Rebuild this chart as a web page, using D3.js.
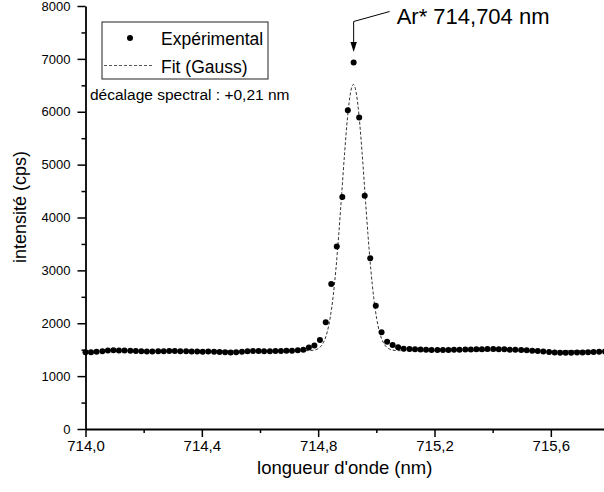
<!DOCTYPE html>
<html>
<head>
<meta charset="utf-8">
<script src="https://cdn.jsdelivr.net/npm/d3@7"></script>
<style>
    html, body { margin: 0; padding: 0; background: #fff; }
    #chart { width: 604px; height: 492px; }
    svg text { font-family: Arial, "Liberation Sans", sans-serif; fill: #000; }
</style>
</head>
<body>
<div id="chart"></div>
<script>
// wavelength of each measured point (nm)
const wavelengths = [
    714.000, 714.019, 714.038, 714.058, 714.077, 714.096, 714.115, 714.134, 714.154, 714.173,
    714.192, 714.211, 714.230, 714.250, 714.269, 714.288, 714.307, 714.326, 714.346, 714.365,
    714.384, 714.403, 714.422, 714.442, 714.461, 714.480, 714.499, 714.518, 714.538, 714.557,
    714.576, 714.595, 714.614, 714.634, 714.653, 714.672, 714.691, 714.710, 714.730, 714.749,
    714.768, 714.787, 714.806, 714.826, 714.845, 714.864, 714.883, 714.902, 714.922, 714.941,
    714.960, 714.979, 714.998, 715.018, 715.037, 715.056, 715.075, 715.094, 715.114, 715.133,
    715.152, 715.171, 715.190, 715.210, 715.229, 715.248, 715.267, 715.286, 715.306, 715.325,
    715.344, 715.363, 715.382, 715.402, 715.421, 715.440, 715.459, 715.478, 715.498, 715.517,
    715.536, 715.555, 715.574, 715.594, 715.613, 715.632, 715.651, 715.670, 715.690, 715.709,
    715.728, 715.747, 715.766, 715.786
];

// measured intensity (cps)
const intensities = [
    1450, 1450, 1460, 1470, 1485, 1490, 1485, 1485, 1480, 1475,
    1470, 1465, 1465, 1470, 1470, 1475, 1475, 1470, 1470, 1465,
    1465, 1460, 1465, 1460, 1455, 1450, 1445, 1450, 1460, 1470,
    1475, 1475, 1470, 1470, 1475, 1475, 1480, 1480, 1490, 1500,
    1540, 1580, 1685, 2020, 2740, 3450, 4390, 6030, 6930, 5890,
    4410, 3230, 2330, 1830, 1650, 1590, 1545, 1520, 1515, 1510,
    1505, 1500, 1495, 1495, 1495, 1495, 1500, 1500, 1505, 1505,
    1510, 1510, 1515, 1515, 1510, 1510, 1500, 1500, 1495, 1490,
    1480, 1475, 1465, 1455, 1445, 1440, 1440, 1440, 1445, 1445,
    1450, 1455, 1460, 1465
];

// gaussian fit curve
const fitWavelengths = [
    714.000, 714.721, 714.771, 714.791, 714.801, 714.811, 714.821, 714.831, 714.841, 714.851,
    714.861, 714.871, 714.881, 714.891, 714.901, 714.911, 714.921, 714.931, 714.941, 714.951,
    714.961, 714.971, 714.981, 714.991, 715.001, 715.011, 715.021, 715.031, 715.041, 715.051,
    715.071, 715.121, 715.800
];
const fitIntensities = [
    1480, 1480, 1483, 1499, 1524, 1574, 1668, 1831, 2094, 2486,
    3022, 3694, 4456, 5226, 5896, 6353, 6516, 6353, 5896, 5226,
    4456, 3694, 3022, 2486, 2094, 1831, 1668, 1574, 1524, 1499,
    1483, 1480, 1480
];

const xTicks = [714.0, 714.4, 714.8, 715.2, 715.6];
const xMinorTicks = [714.2, 714.6, 715.0, 715.4];
const yTicks = [0, 1000, 2000, 3000, 4000, 5000, 6000, 7000, 8000];
const yMinorTicks = [500, 1500, 2500, 3500, 4500, 5500, 6500, 7500];

const xTitle = "longueur d'onde (nm)";
const yTitle = 'intensité (cps)';
const legendLabels = ['Expérimental', 'Fit (Gauss)'];
const shiftLabel = 'décalage spectral : +0,21 nm';
const peakLabel = 'Ar* 714,704 nm';
const peakWavelength = 714.922;

window.addEventListener("DOMContentLoaded", function () {

    const w = 604,
        h = 492,
        plot = {
            left: 85.5,
            right: 609,
            top: 6,
            bottom: 429
        };

    const svg = d3.select('#chart')
        .append('svg')
        .attr('width', w)
        .attr('height', h);

    const xScale = d3.scaleLinear()
        .domain([714.0, 715.8])
        .range([plot.left, plot.right]);

    const yScale = d3.scaleLinear()
        .domain([0, 8000])
        .range([plot.bottom, plot.top]);

    const commaFormat = (d) => d.toFixed(1).replace('.', ',');

    //minor ticks first, under the main axes
    svg.append('g')
        .attr('transform', 'translate(0, ' + plot.bottom + ')')
        .call(d3.axisBottom(xScale).tickValues(xMinorTicks).tickSize(4).tickFormat(''))
        .call(g => g.select('.domain').remove());

    svg.append('g')
        .attr('transform', 'translate(' + plot.left + ', 0)')
        .call(d3.axisLeft(yScale).tickValues(yMinorTicks).tickSize(4).tickFormat(''))
        .call(g => g.select('.domain').remove());

    //xAxis
    const xAxisG = svg.append('g')
        .attr('id', 'x-axis')
        .attr('transform', 'translate(0, ' + plot.bottom + ')')
        .call(d3.axisBottom(xScale).tickValues(xTicks).tickSize(8).tickSizeOuter(0).tickFormat(commaFormat));
    xAxisG.selectAll('text')
        .attr('y', 11)
        .attr('dy', '0.71em')
        .style('font-size', '15px');

    //yAxis
    const yAxisG = svg.append('g')
        .attr('id', 'y-axis')
        .attr('transform', 'translate(' + plot.left + ', 0)')
        .call(d3.axisLeft(yScale).tickValues(yTicks).tickSize(8).tickSizeOuter(0).tickFormat(d3.format('d')));
    yAxisG.selectAll('text')
        .attr('x', -15)
        .style('font-size', '13px');

    svg.selectAll('.domain, .tick line')
        .attr('stroke', '#000')
        .attr('stroke-width', 1.5);
    svg.selectAll('.domain').attr('stroke-width', 1.8);

    //axis titles
    svg.append('text')
        .attr('x', (plot.left + w) / 2)
        .attr('y', 474)
        .attr('text-anchor', 'middle')
        .style('font-size', '18.5px')
        .text(xTitle);

    svg.append('text')
        .attr('transform', 'translate(26, 207) rotate(-90)')
        .attr('text-anchor', 'middle')
        .style('font-size', '18px')
        .text(yTitle);

    //fit curve
    const fitData = fitWavelengths.map((d, i) => [d, fitIntensities[i]]);
    const fitLine = d3.line()
        .x(d => xScale(d[0]))
        .y(d => yScale(d[1]))
        .curve(d3.curveMonotoneX);

    svg.append('path')
        .datum(fitData)
        .attr('d', fitLine)
        .attr('fill', 'none')
        .attr('stroke', '#333')
        .attr('stroke-width', 1)
        .attr('stroke-dasharray', '3,2');

    //measured points
    const points = wavelengths.map((d, i) => [d, intensities[i]]);
    svg.append('g')
        .selectAll('circle')
        .data(points)
        .enter()
        .append('circle')
        .attr('cx', d => xScale(d[0]))
        .attr('cy', d => yScale(d[1]))
        .attr('r', 3)
        .attr('fill', '#000');

    //legend
    const legend = svg.append('g').attr('transform', 'translate(102, 22)');
    legend.append('rect')
        .attr('width', 166)
        .attr('height', 57)
        .attr('fill', '#fff')
        .attr('stroke', '#222')
        .attr('stroke-width', 1);
    legend.append('circle')
        .attr('cx', 28)
        .attr('cy', 16)
        .attr('r', 3)
        .attr('fill', '#000');
    legend.append('line')
        .attr('x1', 2)
        .attr('x2', 50)
        .attr('y1', 43.5)
        .attr('y2', 43.5)
        .attr('stroke', '#555')
        .attr('stroke-width', 1)
        .attr('stroke-dasharray', '3,2');
    legend.selectAll('.legend-label')
        .data(legendLabels)
        .enter()
        .append('text')
        .attr('class', 'legend-label')
        .attr('x', 59)
        .attr('y', (d, i) => 22.5 + i * 28.5)
        .style('font-size', '17.5px')
        .text(d => d);

    svg.append('text')
        .attr('x', 90)
        .attr('y', 99.5)
        .style('font-size', '15.5px')
        .text(shiftLabel);

    //peak annotation
    const px = xScale(peakWavelength);
    svg.append('polyline')
        .attr('points', [[px + 36, 11.5], [px, 21.5], [px, 44]].map(p => p.join(',')).join(' '))
        .attr('fill', 'none')
        .attr('stroke', '#000')
        .attr('stroke-width', 1);
    svg.append('path')
        .attr('d', 'M' + (px - 3.2) + ',42 L' + (px + 3.2) + ',42 L' + px + ',52 Z')
        .attr('fill', '#000');
    svg.append('text')
        .attr('x', px + 43)
        .attr('y', 24)
        .style('font-size', '22px')
        .text(peakLabel);

}); //end of doc ready
</script>
</body>
</html>
